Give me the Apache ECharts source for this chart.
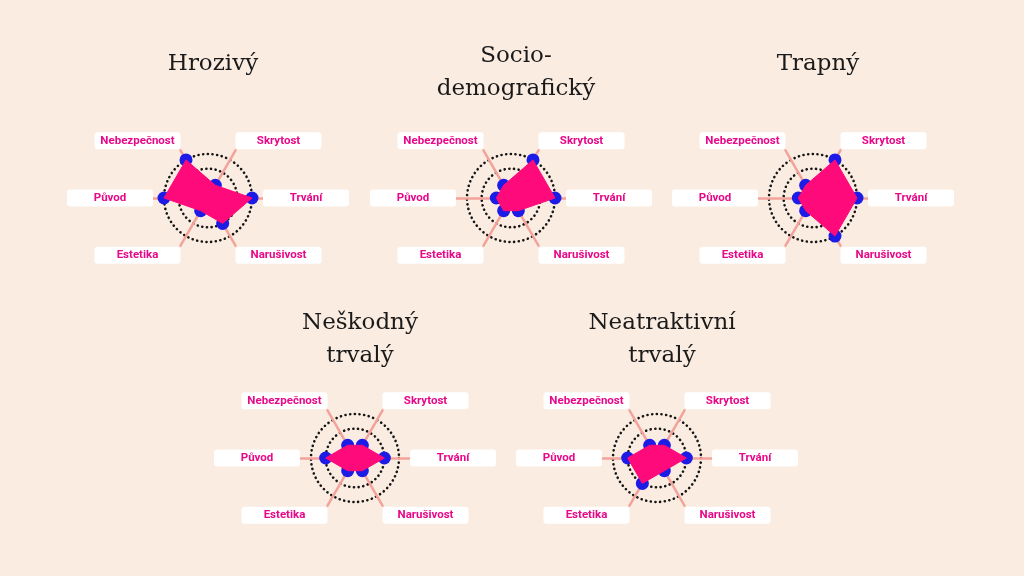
<!DOCTYPE html>
<html>
<head>
<meta charset="utf-8">
<script src="https://cdn.jsdelivr.net/npm/echarts@6/dist/echarts.min.js"></script>
<style>
html,body{margin:0;padding:0;background:#faece1;}
#c{width:1024px;height:576px;}
</style>
</head>
<body>
<div id="c"></div>
<script>
// Axes in counter-clockwise order starting at 60°
var indicators = ['Skrytost', 'Nebezpečnost', 'Původ', 'Estetika', 'Narušivost', 'Trvání'];
var chartTitles = ['Hrozivý', 'Socio-\ndemografický', 'Trapný', 'Neškodný\ntrvalý', 'Neatraktivní\ntrvalý'];
var valuesHrozivy = [1, 3, 3, 1, 2, 3];
var valuesSocio = [3, 1, 1, 1, 1, 3];
var valuesTrapny = [3, 1, 1, 1, 3, 3];
var valuesNeskodny = [1, 1, 2, 1, 1, 2];
var valuesNeatraktivni = [1, 1, 2, 2, 1, 2];
var scaleMax = 3;

var allValues = [valuesHrozivy, valuesSocio, valuesTrapny, valuesNeskodny, valuesNeatraktivni];
var centers = [[208, 198], [511, 198], [813, 198], [355, 458], [657, 458]];
var titleTops = [43, 35, 43, 302, 302];

var PINK = '#ff0a7a';
var LABEL = '#e8088a';
var BLUE = '#1c1ce6';
var AXIS = '#f4a39b';

var topNames = {'Skrytost': 1, 'Nebezpečnost': 1};
var bottomNames = {'Estetika': 1, 'Narušivost': 1};

var radars = [];
var series = [];
var titles = [];

allValues.forEach(function (vals, k) {
  var c = centers[k];
  // axis radar (lines + names)
  radars.push({
    center: c,
    radius: 55,
    startAngle: 60,
    shape: 'circle',
    splitNumber: 3,
    indicator: indicators.map(function (n) { return {name: n, min: 0, max: scaleMax}; }),
    nameGap: 0,
    axisLine: {show: true, lineStyle: {color: AXIS, width: 2.5}},
    splitLine: {show: false},
    splitArea: {show: false},
    axisName: {
      formatter: function (name) {
        if (topNames[name]) return '{box|' + name + '}\n{gap| }';
        if (bottomNames[name]) return '{gap| }\n{box|' + name + '}';
        return '{box|' + name + '}';
      },
      rich: {
        box: {
          backgroundColor: '#ffffff',
          color: LABEL,
          fontFamily: 'Roboto',
          fontWeight: 'bold',
          fontSize: 11.5,
          width: 86,
          height: 17,
          lineHeight: 17,
          align: 'center',
          borderRadius: 3
        },
        gap: {lineHeight: 19, height: 19, fontSize: 11}
      }
    }
  });
  // data radar (rings)
  radars.push({
    center: c,
    radius: 44,
    startAngle: 60,
    shape: 'circle',
    splitNumber: 3,
    indicator: indicators.map(function (n) { return {name: n, min: 0, max: scaleMax}; }),
    axisName: {show: false},
    axisLine: {show: false},
    splitArea: {show: false},
    splitLine: {
      show: true,
      lineStyle: {
        color: ['rgba(0,0,0,0)', 'rgba(0,0,0,0)', '#151515', '#151515'],
        width: 2.6,
        type: [0.1, 4.6],
        cap: 'round'
      }
    }
  });
  var ri = k * 2 + 1;
  series.push({
    type: 'radar',
    radarIndex: ri,
    z: 2,
    silent: true,
    symbol: 'circle',
    symbolSize: 13,
    itemStyle: {color: BLUE},
    lineStyle: {width: 0, opacity: 0},
    data: [{value: vals}]
  });
  series.push({
    type: 'radar',
    radarIndex: ri,
    z: 3,
    silent: true,
    symbol: 'none',
    lineStyle: {width: 1, color: PINK},
    areaStyle: {color: PINK, opacity: 1},
    data: [{value: vals}]
  });
  titles.push({
    text: chartTitles[k],
    left: c[0],
    top: titleTops[k],
    textAlign: 'center',
    textStyle: {
      fontFamily: 'DejaVu Serif',
      fontWeight: 'normal',
      fontSize: 23,
      lineHeight: 33,
      color: '#1a1a1a'
    }
  });
});

var chart = echarts.init(document.getElementById('c'));
chart.setOption({
  backgroundColor: '#faece1',
  animation: false,
  title: titles,
  radar: radars,
  series: series
});
</script>
</body>
</html>
